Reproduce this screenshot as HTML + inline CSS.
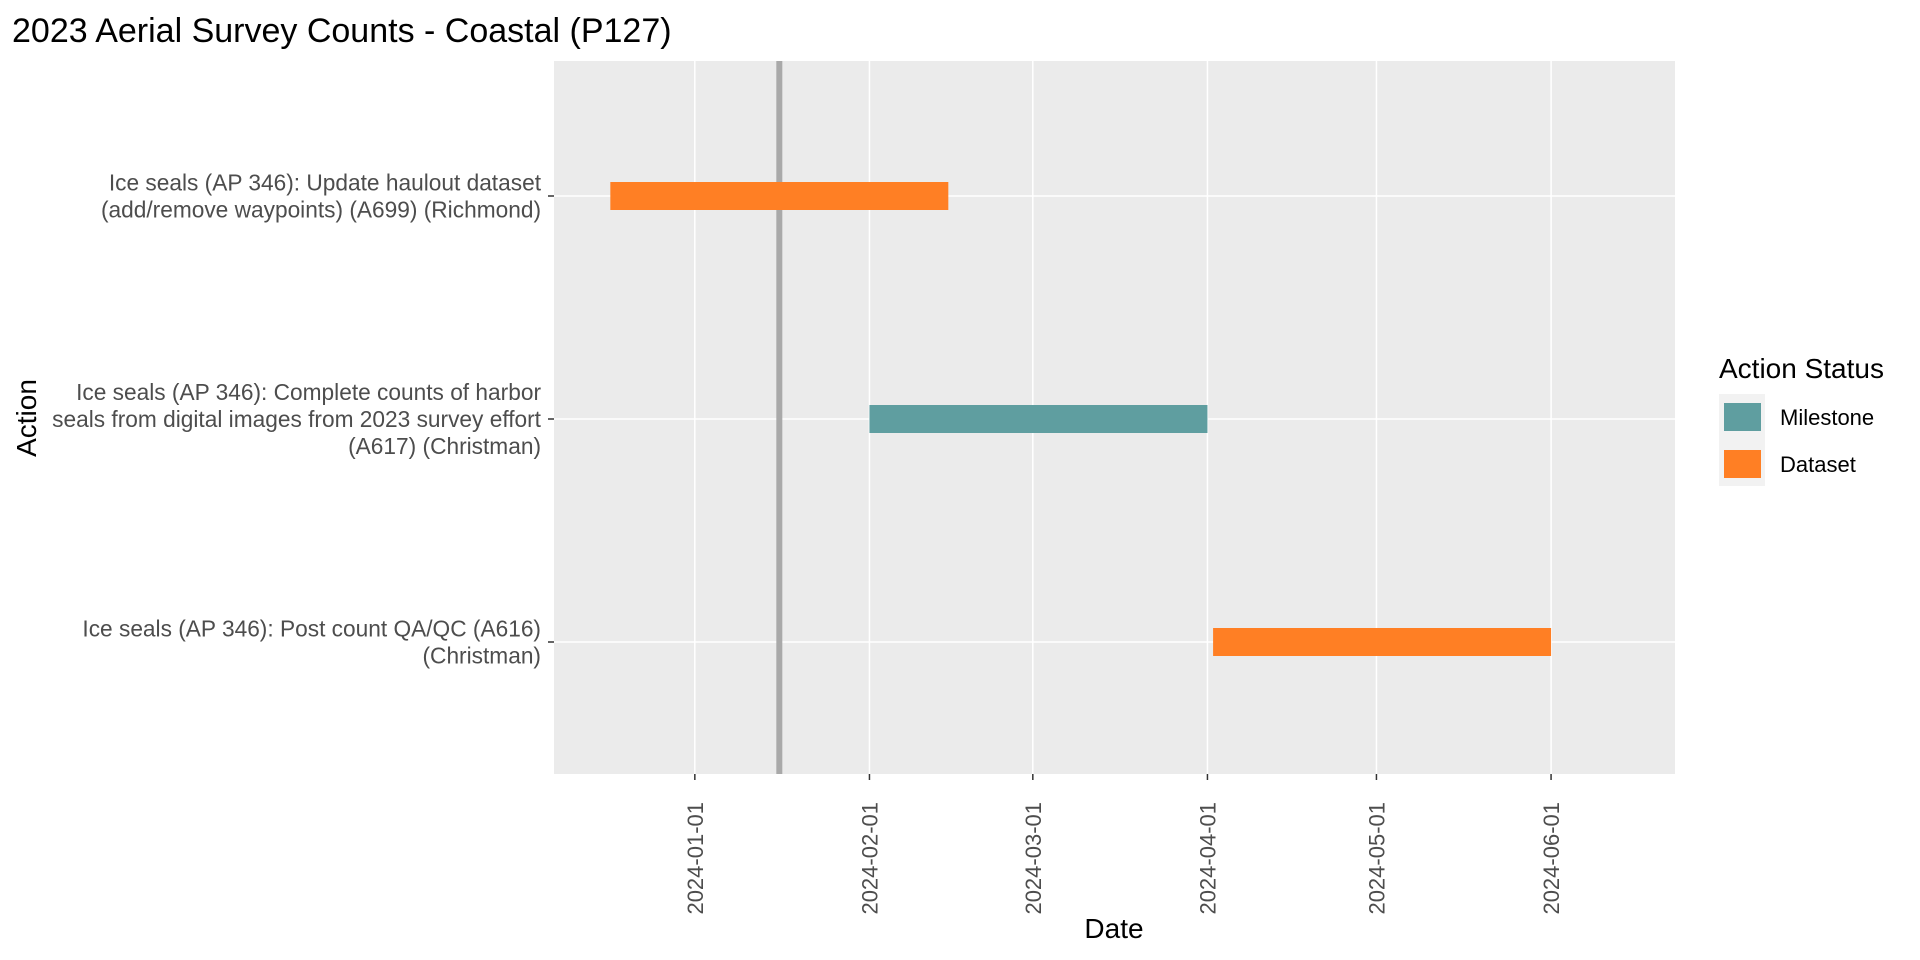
<!DOCTYPE html>
<html><head><meta charset="utf-8"><style>
body{margin:0;background:#fff;}
svg{display:block;font-family:"Liberation Sans",sans-serif;}
</style></head><body>
<svg id="chart" width="1920" height="960">
<text x="12" y="42" font-size="34" fill="#000">2023 Aerial Survey Counts - Coastal (P127)</text>
<rect x="554" y="61" width="1121" height="713" fill="#ebebeb"/>
<g id="grid"></g><g id="bars"></g><g id="axes"></g>
<text x="1114" y="938" font-size="28" text-anchor="middle" fill="#000">Date</text>
<text transform="translate(36,418) rotate(-90)" font-size="28" text-anchor="middle" fill="#000">Action</text>
<g>
<text x="1719" y="378" font-size="28" fill="#000">Action Status</text>
<rect x="1719" y="394" width="46" height="92" fill="#f2f2f2"/>
<rect x="1724" y="403" width="37" height="28" fill="#5f9ea0"/>
<text x="1780" y="425" font-size="22" fill="#000">Milestone</text>
<rect x="1724" y="450" width="37" height="28" fill="#ff7f24"/>
<text x="1780" y="472" font-size="22" fill="#000">Dataset</text>
</g>
</svg>
<script>
const categories=[
 ["Ice seals (AP 346): Update haulout dataset","(add/remove waypoints) (A699) (Richmond)"],
 ["Ice seals (AP 346): Complete counts of harbor","seals from digital images from 2023 survey effort","(A617) (Christman)"],
 ["Ice seals (AP 346): Post count QA/QC (A616)","(Christman)"]];
const starts=["2023-12-17","2024-02-01","2024-04-02"];
const ends=["2024-02-15","2024-04-01","2024-06-01"];
const statuses=["Dataset","Milestone","Dataset"];
const tickLabels=["2024-01-01","2024-02-01","2024-03-01","2024-04-01","2024-05-01","2024-06-01"];
const todayLine="2024-01-16";
const colors={Milestone:"#5f9ea0",Dataset:"#ff7f24"};
const NS="http://www.w3.org/2000/svg";
const D=s=>Date.parse(s+"T00:00:00Z");
const PL=554,PW=1121,PT=61,PB=774;
const x0=D("2023-12-07"),x1=D("2024-06-23");
const X=v=>PL+(D(v)-x0)/(x1-x0)*PW;
const Y=i=>196+i*((642-196)/(categories.length-1));
function mk(tag,attrs,parent){const e=document.createElementNS(NS,tag);for(const k in attrs)e.setAttribute(k,attrs[k]);parent.appendChild(e);return e;}
const grid=document.getElementById('grid'),bars=document.getElementById('bars'),axes=document.getElementById('axes');
tickLabels.forEach(t=>{
 const g=mk('line',{x1:X(t),x2:X(t),y1:PT,y2:PB,stroke:'#fff','stroke-width':1.5},grid);
 
 
 const tk=mk('line',{x1:X(t),x2:X(t),y1:PB,y2:PB+6,stroke:'#333','stroke-width':1.5},axes);
 
 
 const tx=mk('text',{transform:`translate(${X(t)+8},802) rotate(-90)`,'font-size':22,fill:'#4d4d4d','text-anchor':'end'},axes);
 tx.textContent=t;
 
 
});
categories.forEach((c,i)=>{
 const y=Y(i);
 const g=mk('line',{x1:PL,x2:PL+PW,y1:y,y2:y,stroke:'#fff','stroke-width':1.5},grid);
 
 
 const tk=mk('line',{x1:548,x2:PL,y1:y,y2:y,stroke:'#333','stroke-width':1.5},axes);
 
 
 const n=c.length,lh=27;
 const tx=mk('text',{'font-size':22.7,fill:'#4d4d4d','text-anchor':'end'},axes);
 
 
 c.forEach((ln,j)=>{const s=mk('tspan',{x:541,y:y+8+(j-(n-1)/2)*lh},tx);s.textContent=ln;});
});
const vl=mk('line',{x1:X(todayLine),x2:X(todayLine),y1:PT,y2:PB,stroke:'#a9a9a9','stroke-width':6},bars);


starts.forEach((s,i)=>{
 const r=mk('rect',{x:X(s),y:Y(i)-14,width:X(ends[i])-X(s),height:28,fill:colors[statuses[i]]},bars);
 
 
});
</script>
</body></html>
